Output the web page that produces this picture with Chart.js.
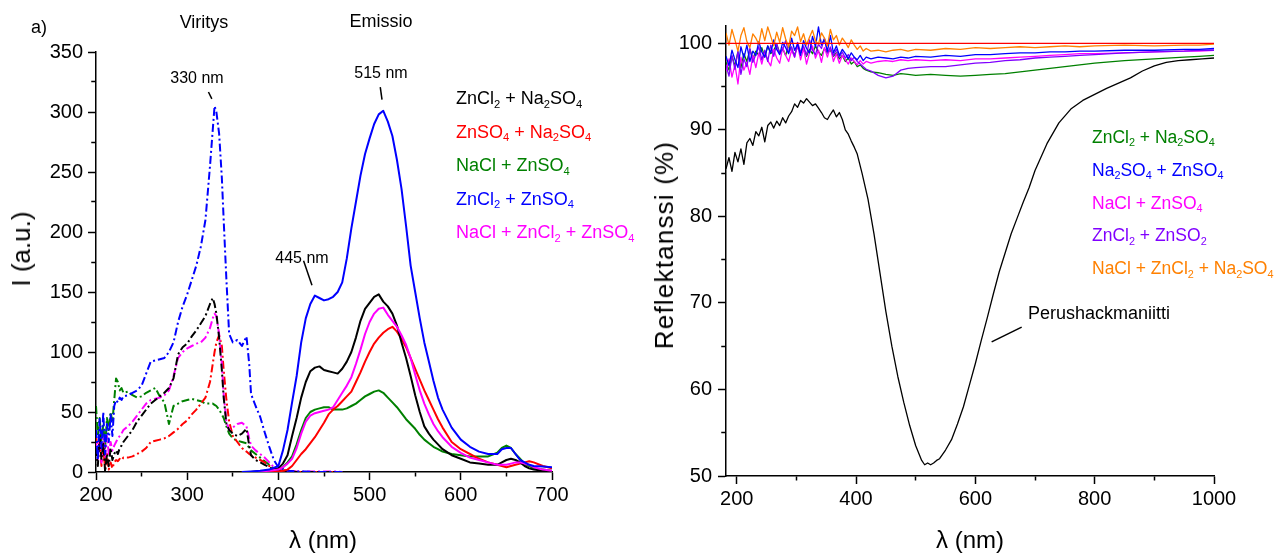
<!DOCTYPE html>
<html>
<head>
<meta charset="utf-8">
<title>Viritys- ja emissiospektrit sekä reflektanssi</title>
<script src="https://cdn.jsdelivr.net/npm/chart.js@4.4.1/dist/chart.umd.min.js"></script>
<style>
  body { margin: 0; background: #fff; font-family: "Liberation Sans", Arial, sans-serif; }
  #wrap { position: relative; width: 1282px; height: 553px; overflow: hidden; }
  canvas { position: absolute; top: 0; }
  .t { position: absolute; white-space: nowrap; line-height: 1; color: #000; }
  .c { transform: translateX(-50%); }
  .s { font-size: 0.62em; position: relative; top: 0.32em; }
  .yt { position: absolute; white-space: nowrap; line-height: 1; font-size: 26px; transform: translate(-50%, -50%) rotate(-90deg); }
  .leg { position: absolute; white-space: nowrap; }
</style>
</head>
<body>
<div id="wrap">
  <canvas id="left" width="640" height="553" style="left:0"></canvas>
  <canvas id="right" width="642" height="553" style="left:640px"></canvas>

  <div class="t" style="left:31px; top:18px; font-size:18px">a)</div>
  <div class="t c" style="left:204px; top:13px; font-size:18px">Viritys</div>
  <div class="t c" style="left:381px; top:12px; font-size:18px">Emissio</div>
  <div class="t c" style="left:197px; top:70px; font-size:16px">330 nm</div>
  <div class="t c" style="left:302px; top:250px; font-size:16px">445 nm</div>
  <div class="t c" style="left:381px; top:65px; font-size:16px">515 nm</div>

  <div class="leg" style="left:456px; top:83px; font-size:18px; line-height:31.5px">
    <div style="color:#000">ZnCl<span class="s">2</span> + Na<span class="s">2</span>SO<span class="s">4</span></div>
    <div style="color:#ff0000">ZnSO<span class="s">4</span> + Na<span class="s">2</span>SO<span class="s">4</span></div>
    <div style="color:#008000">NaCl + ZnSO<span class="s">4</span></div>
    <div style="color:#0000ff">ZnCl<span class="s">2</span> + ZnSO<span class="s">4</span></div>
    <div style="color:#ff00ff">NaCl + ZnCl<span class="s">2</span> + ZnSO<span class="s">4</span></div>
  </div>

  <div class="leg" style="left:1092px; top:122px; font-size:17.5px; line-height:30.8px">
    <div style="color:#008000">ZnCl<span class="s">2</span> + Na<span class="s">2</span>SO<span class="s">4</span></div>
    <div style="color:#0000ff">Na<span class="s">2</span>SO<span class="s">4</span> + ZnSO<span class="s">4</span></div>
    <div style="color:#ff00ff">NaCl + ZnSO<span class="s">4</span></div>
    <div style="color:#8000ff">ZnCl<span class="s">2</span> + ZnSO<span class="s">2</span></div>
    <div style="color:#ff8000">NaCl + ZnCl<span class="s">2</span> + Na<span class="s">2</span>SO<span class="s">4</span></div>
  </div>

  <div class="t" style="left:1028px; top:304px; font-size:18px">Perushackmaniitti</div>

  <div class="yt" style="left:21px; top:249px">I (a.u.)</div>
  <div class="yt" style="left:664px; top:245px; letter-spacing:1.2px">Reflektanssi (%)</div>
  <div class="t c" style="left:323px; top:528px; font-size:24px">&lambda; (nm)</div>
  <div class="t c" style="left:970px; top:528px; font-size:24px">&lambda; (nm)</div>
</div>

<script>
// ---- left panel: excitation (dashed) ----
const excX = [200,202,204,206,208,210,212,214,216,218,
  220,222,224,226,228,230,235,240,245,250,
  255,260,265,270,275,280,285,290,295,300,
  305,310,315,320,325,328,330,332,335,338,
  340,343,346,350,355,360,365,368,370,375,
  380,385,390,395,400,410,420,430,440,450,
  460,470];
const excBlue = [35,10,45,20,50,15,40,25,48,30,
  55,60,58,62,60,63,64,66,68,72,
  82,92,93,94,95,100,108,125,138,148,
  160,172,188,210,255,285,305,300,282,245,
  210,160,115,108,110,105,113,90,65,55,
  46,33,21,10,4,1,0.5,0.5,0,0,
  0,0];
const excBlack = [20,5,30,10,25,0,15,5,20,10,
  15,18,15,20,22,25,30,35,42,47,
  52,57,60,63,66,70,78,98,104,107,
  113,118,124,130,140,145,140,132,112,85,
  62,40,35,32,30,32,36,22,14,10,
  8,6,4,2,1,0.5,0,0,0,0,
  0,0];
const excMagenta = [25,10,30,8,28,12,30,15,25,18,
  22,25,28,30,32,35,38,42,47,52,
  57,60,61,62,64,68,80,95,100,103,
  105,107,108,112,120,128,132,130,115,90,
  65,42,35,37,40,41,38,28,22,18,
  15,12,8,4,2,1,0.5,0.5,0.5,0.5,
  0.5,0];
const excRed = [30,15,25,5,20,3,15,2,8,3,
  8,10,9,11,10,12,12,13,15,17,
  20,25,26,27,28,30,33,36,40,43,
  48,52,57,62,75,90,100,108,114,105,
  85,60,42,30,25,20,17,15,14,12,
  10,8,5,3,2,1,0,0,0,0,
  0,0];
const excGreen = [55,30,45,25,40,20,45,35,50,42,
  60,78,75,68,70,66,67,64,62,63,
  66,68,70,63,58,40,55,57,59,60,
  61,60,59,57,57,57,56,55,52,48,
  45,38,32,28,26,25,24,20,18,15,
  12,9,6,3,1,0.5,0,0,0,0,
  0,0];

// ---- left panel: emission (solid) ----
const emX = [360,370,380,390,
  400,405,410,415,420,425,430,435,440,445,
  450,455,460,465,470,475,480,485,490,495,
  500,505,510,515,520,525,530,535,540,545,
  550,555,560,565,570,575,580,
  590,600,610,620,630,640,
  645,650,655,660,665,670,675,680,
  690,700];
const emBlue = [0,0.5,1,2,
  5,18,35,58,80,108,128,140,147,145,
  143,144,146,150,158,178,203,225,247,265,
  278,290,298,301,292,280,260,236,205,172,
  150,128,108,92,76,62,52,
  37,27,21,17,15,15,
  19,20,20,15,10,8,6,5,
  4.5,4];
const emBlack = [0,0,0.5,1.5,
  3,7,14,30,45,62,75,84,87,88,
  85,84,83,82,86,92,100,112,126,136,
  141,146,148,142,138,132,122,108,95,80,
  64,50,38,32,27,23,19,
  14,11,8,7,6,6,
  8,10,11,10,8,5,3,2,
  1,0.5];
const emMagenta = [0,0,0.5,1,
  2,4,7,11,20,32,42,47,49,50,
  51,52,54,60,66,72,79,90,102,115,
  125,132,136,137,131,126,121,114,106,95,
  81,68,57,48,40,34,29,
  21,16,12,10,8,6,
  6,6,7,8,8,7,6,4,
  2,1];
const emRed = [0,0,0,0.5,
  0.5,1,2,5,10,15,19,24,29,35,
  41,48,52,55,59,63,67,75,83,92,
  100,107,112,116,119,121,117,111,104,95,
  86,77,68,60,52,44,37,
  25,19,15,11,8,6,
  5,4,5,6,7,8,9,8,
  5,3];
const emGreen = [0,0,0.5,1,
  2,4,8,13,23,35,45,50,52,53,
  54,54,52,52,52,53,55,57,60,63,
  65,67,68,66,62,58,54,49,44,40,
  36,31,27,24,21,19,17,
  15,14,13,13,13,16,
  20,22,20,15,11,7,5,3,
  2,1];

// ---- right panel: reflectance ----
const reflX = [182,187,192,197,202,207,212,217,222,227,
  232,237,242,247,252,257,262,267,272,277,
  282,287,292,297,302,307,312,317,322,327,
  332,337,342,347,352,357,362,367,372,377,
  382,387,392,397,402,407,412,417,
  425,437,450,462,475,487,500,525,550,575,600,625,650,675,700,725,750,775,800,850,900,950,975,1000];
const refOrange = [101.2,99.8,101.6,100.4,99.1,100.9,101.8,100.2,99.5,101.1,
  100.6,99.9,101.7,100.3,101.9,100.8,99.7,101.3,100.1,101.8,
  100.5,99.6,101.4,100.9,101.9,100.2,101.1,99.8,100.7,101.5,
  100.3,99.9,101.2,100.6,99.7,101.6,100.4,100.9,99.8,100.6,
  100.1,99.5,100.4,99.8,99.3,99.7,99.1,99.4,
  99.1,99.2,99.0,99.2,99.3,99.1,99.3,99.2,99.4,99.3,99.5,99.4,99.5,99.6,99.5,99.6,99.7,99.6,99.7,99.8,99.7,99.8,99.8,99.9];
const refBlue = [98.5,97.4,99.2,98.1,97.2,99.6,98.3,99.8,97.9,99.1,
  98.6,100.2,99.0,98.4,99.7,98.9,100.4,99.3,98.7,100.1,
  99.5,98.8,100.6,99.2,99.9,98.6,100.3,99.4,98.9,100.8,
  99.6,101.9,99.8,100.5,99.1,100.9,98.9,99.7,98.6,99.3,
  98.8,98.2,98.9,98.4,98.1,98.6,98.0,98.4,
  98.2,98.4,98.3,98.2,98.4,98.3,98.5,98.4,98.6,98.5,98.7,98.7,98.8,98.9,98.9,99.0,99.0,99.1,99.1,99.2,99.2,99.3,99.3,99.4];
const refMagenta = [96.8,98.2,96.1,97.5,95.3,98.4,96.9,97.8,96.4,98.6,
  97.2,98.9,97.6,99.1,98.0,97.4,99.3,98.3,97.7,99.5,
  98.6,97.9,99.2,98.4,99.8,98.1,99.4,97.6,98.9,99.7,
  98.3,99.2,97.8,99.5,98.4,99.6,97.9,98.8,97.7,98.6,
  98.1,97.6,98.3,97.9,97.5,98.0,97.6,97.9,
  97.7,97.9,98.0,97.9,98.1,98.0,98.1,98.0,98.1,98.0,98.2,98.2,98.3,98.4,98.5,98.6,98.7,98.8,98.8,98.9,99.0,99.1,99.1,99.2];
const refPurple = [97.5,96.2,98.6,97.0,99.1,96.4,98.2,97.3,99.4,97.8,
  98.7,99.6,98.1,99.2,97.9,99.8,98.5,99.9,98.8,99.3,
  100.3,98.9,99.6,98.4,100.1,99.0,99.7,98.6,100.4,99.2,
  98.7,99.9,99.4,100.6,98.9,99.5,98.6,99.3,98.4,99.0,
  98.3,98.7,98.0,98.4,97.9,97.6,97.3,97.0,
  96.8,96.3,96.0,96.2,96.9,97.1,97.2,97.3,97.3,97.5,97.7,97.8,98.0,98.1,98.3,98.4,98.5,98.6,98.7,98.9,99.0,99.1,99.2,99.2];
const refGreen = [97.8,96.9,98.5,97.4,99.0,97.2,98.8,97.9,99.3,98.2,
  99.1,98.6,99.5,98.4,99.7,98.8,99.2,99.9,98.9,99.4,
  98.6,99.8,99.1,98.7,99.6,98.9,99.5,98.5,99.3,98.8,
  99.7,99.0,98.6,99.4,98.9,99.2,98.5,98.9,98.2,98.6,
  97.9,98.3,97.6,97.9,97.3,97.5,97.1,96.9,
  96.7,96.6,96.4,96.3,96.5,96.4,96.3,96.4,96.3,96.2,96.3,96.4,96.5,96.7,96.9,97.1,97.3,97.5,97.7,98.0,98.2,98.4,98.5,98.6];
const refRedX = [182, 1000];
const refRed = [100, 100];

// Perushackmaniitti
const perX = [182,187,192,197,202,207,212,217,222,227,
  232,237,242,247,252,257,262,267,272,277,
  282,287,292,297,302,307,312,317,322,327,
  332,337,342,347,352,357,362,367,372,377,
  382,387,392,397,402,
  410,420,430,440,450,460,470,480,490,500,
  510,515,520,525,530,535,540,
  550,560,570,580,590,600,610,620,630,640,650,660,670,680,690,700,
  720,740,760,780,800,820,840,860,880,900,920,940,960,980,1000];
const perY = [85.5,86.8,85.2,87.4,86.3,87.8,86.0,88.5,89.0,88.2,
  89.8,89.3,90.3,88.6,90.5,90.9,90.2,91.0,90.5,91.4,
  90.8,91.6,92.1,93.0,92.6,93.4,93.1,93.6,93.2,92.8,
  93.0,92.5,92.0,91.4,91.2,91.8,92.3,91.5,92.0,91.2,
  90.0,89.5,88.7,88.0,87.2,
  85.0,82.0,78.0,73.5,69.0,65.0,61.5,58.5,55.8,53.5,
  51.8,51.3,51.5,51.3,51.5,51.8,52.0,
  53.0,54.2,56.0,58.0,60.5,63.0,65.7,68.3,71.0,73.6,75.8,78.0,79.8,81.6,83.3,85.3,
  88.4,90.8,92.4,93.4,94.1,94.8,95.4,96.0,96.8,97.4,97.8,98.0,98.1,98.2,98.3];

// annotation pointers [x1, y1, x2, y2] in data units
const leftPointers = [[323.3, 316.7, 327, 311], [427.6, 176, 436.8, 155.6], [511.7, 320.8, 513.6, 310.3]];
const rightPointers = [[627.3, 65.5, 677.6, 67.2]];

const FONT = '"Liberation Sans", Arial, sans-serif';

const line = (xs, ys, color, width, dash) => ({
  data: xs.map((x, i) => ({ x, y: ys[i] })),
  borderColor: color,
  borderWidth: width,
  borderDash: dash || [],
  fill: false
});

function scaleOpts(min, max, step, major, fitSize, isX, pad) {
  return {
    type: 'linear', min, max,
    afterFit: s => { if (isX) s.height = fitSize; else s.width = fitSize; },
    ticks: {
      stepSize: step, autoSkip: false, includeBounds: false, maxRotation: 0,
      padding: pad, color: '#000', font: { family: FONT, size: 20 },
      callback: v => (v % major === 0 ? String(v) : '')
    },
    grid: {
      drawOnChartArea: false, tickLength: 8, tickWidth: 1.5,
      tickColor: c => (c.tick && c.tick.value % step !== 0 ? 'rgba(0,0,0,0)' : '#000'),
      tickBorderDash: c => (c.tick && c.tick.value % major !== 0 ? (isX ? [4, 20] : [0, 3.25, 4.5, 20]) : [])
    },
    border: { color: '#000', width: 1.5 }
  };
}

const pointerPlugin = lines => ({
  id: 'pointers',
  afterDatasetsDraw(chart) {
    const { ctx, scales: { x, y } } = chart;
    ctx.save();
    ctx.strokeStyle = '#000';
    ctx.lineWidth = 1.5;
    lines.forEach(l => {
      ctx.beginPath();
      ctx.moveTo(x.getPixelForValue(l[0]), y.getPixelForValue(l[1]));
      ctx.lineTo(x.getPixelForValue(l[2]), y.getPixelForValue(l[3]));
      ctx.stroke();
    });
    ctx.restore();
  }
});

const common = {
  responsive: false,
  animation: false,
  events: [],
  plugins: { legend: { display: false }, tooltip: { enabled: false } },
  elements: { point: { radius: 0 }, line: { tension: 0, borderJoinStyle: 'round' } }
};

const DASH = [8, 3, 2, 3];

new Chart(document.getElementById('left'), {
  type: 'line',
  data: {
    datasets: [
      line(emX, emBlue, '#0000ff', 2),
      line(emX, emMagenta, '#ff00ff', 2),
      line(emX, emBlack, '#000000', 2),
      line(emX, emRed, '#ff0000', 2),
      line(emX, emGreen, '#008000', 2),
      line(excX, excBlue, '#0000ff', 2, DASH),
      line(excX, excBlack, '#000000', 2, DASH),
      line(excX, excMagenta, '#ff00ff', 2, DASH),
      line(excX, excRed, '#ff0000', 2, DASH),
      line(excX, excGreen, '#008000', 2, DASH)
    ]
  },
  options: Object.assign({}, common, {
    layout: { padding: { left: 0, right: 88, top: 52, bottom: 0 } },
    scales: {
      x: scaleOpts(200, 700, 50, 100, 81, true, 3),
      y: scaleOpts(0, 350, 25, 50, 96, false, 5)
    }
  }),
  plugins: [pointerPlugin(leftPointers)]
});

new Chart(document.getElementById('right'), {
  type: 'line',
  data: {
    datasets: [
      line(refRedX, refRed, '#ff0000', 1.3),
      line(perX, perY, '#000000', 1.3),
      line(reflX, refOrange, '#ff8000', 1.3),
      line(reflX, refBlue, '#0000ff', 1.3),
      line(reflX, refPurple, '#8000ff', 1.3),
      line(reflX, refMagenta, '#ff00ff', 1.3),
      line(reflX, refGreen, '#008000', 1.3)
    ]
  },
  options: Object.assign({}, common, {
    layout: { padding: { left: 0, right: 68, top: 26, bottom: 0 } },
    scales: {
      x: scaleOpts(182, 1000, 100, 200, 77, true, 3),
      y: scaleOpts(50, 102, 5, 10, 86, false, 6)
    }
  }),
  plugins: [pointerPlugin(rightPointers)]
});
</script>
</body>
</html>
